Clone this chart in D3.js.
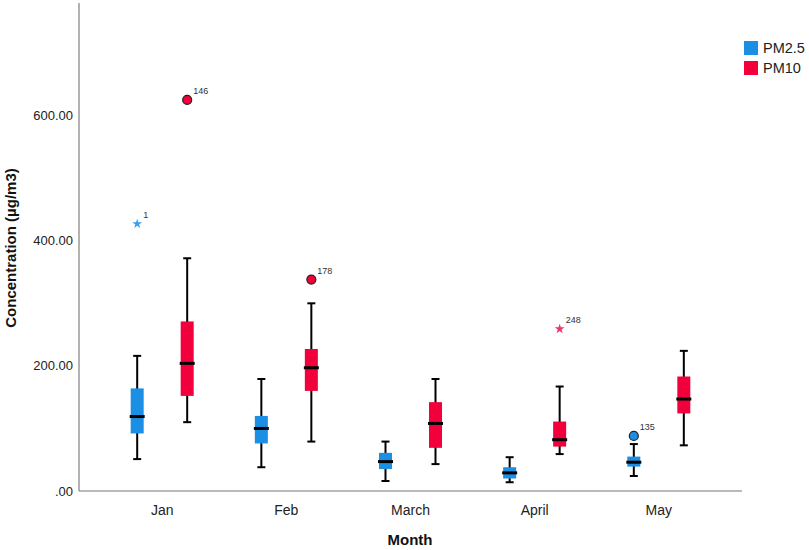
<!DOCTYPE html>
<html>
<head>
<meta charset="utf-8">
<script src="https://cdn.jsdelivr.net/npm/d3@7"></script>
<style>
  body { margin: 0; background: #fff; }
  text { font-family: Arial, "Liberation Sans", sans-serif; }
</style>
</head>
<body>
<div id="chart"></div>
<script>
const months = ["Jan", "Feb", "March", "April", "May"];
const seriesNames = ["PM2.5", "PM10"];
// [low whisker, Q1, median, Q3, high whisker]
const pm25Stats = [
  [51, 92, 119, 164, 216],
  [38, 76, 100, 120, 179],
  [16, 35, 47, 61, 79],
  [14, 20, 29, 38, 54],
  [24, 39, 46, 55, 75]
];
const pm10Stats = [
  [110, 152, 204, 271, 372],
  [79, 160, 197, 227, 300],
  [43, 69, 108, 142, 179],
  [59, 71, 82, 111, 167],
  [73, 124, 147, 183, 224]
];
// outliers: month, series, value, case label, kind
const outlierMonth = ["Jan", "Jan", "Feb", "April", "May"];
const outlierSeries = ["PM2.5", "PM10", "PM10", "PM10", "PM2.5"];
const outlierValue = [427, 625, 338, 259, 88];
const outlierLabel = ["1", "146", "178", "248", "135"];
const outlierKind = ["extreme", "outlier", "outlier", "extreme", "outlier"];
const yTicks = [0, 200, 400, 600];

(function boxplot() {
  const width = 809, height = 550;
  const colors = { "PM2.5": "#1a8fe3", "PM10": "#f2003c" };
  const starColors = { "PM2.5": "#3a9ff0", "PM10": "#f0336a" };

  const svg = d3.select("#chart")
    .append("svg")
    .attr("width", width)
    .attr("height", height);

  const x = d3.scalePoint()
    .domain(months)
    .range([79, 742])
    .padding(0.67);

  const offset = d3.scalePoint()
    .domain(seriesNames)
    .range([-25, 25]);

  const y = d3.scaleLinear()
    .domain([0, 780])
    .range([491, 3]);

  // axes
  svg.append("line")
    .attr("x1", 79).attr("x2", 79)
    .attr("y1", y(780)).attr("y2", y(0))
    .attr("stroke", "#999").attr("stroke-width", 1.5);
  svg.append("line")
    .attr("x1", 79).attr("x2", 742)
    .attr("y1", y(0)).attr("y2", y(0))
    .attr("stroke", "#777").attr("stroke-width", 1.2);

  svg.append("g")
    .selectAll("text")
    .data(yTicks)
    .join("text")
    .attr("x", 73)
    .attr("y", d => y(d))
    .attr("dy", "0.35em")
    .attr("text-anchor", "end")
    .attr("font-size", 13)
    .attr("fill", "#222")
    .text(d => d === 0 ? ".00" : d3.format(".2f")(d));

  svg.append("g")
    .selectAll("text")
    .data(months)
    .join("text")
    .attr("x", d => x(d))
    .attr("y", 515)
    .attr("text-anchor", "middle")
    .attr("font-size", 14)
    .attr("fill", "#222")
    .text(d => d);

  svg.append("text")
    .attr("x", 410)
    .attr("y", 545)
    .attr("text-anchor", "middle")
    .attr("font-size", 15)
    .attr("font-weight", "bold")
    .attr("fill", "#111")
    .text("Month");

  svg.append("text")
    .attr("transform", "translate(16,248) rotate(-90)")
    .attr("text-anchor", "middle")
    .attr("font-size", 15)
    .attr("font-weight", "bold")
    .attr("fill", "#111")
    .text("Concentration (µg/m3)");

  const boxes = [];
  months.forEach((m, i) => {
    boxes.push({ month: m, series: "PM2.5", s: pm25Stats[i] });
    boxes.push({ month: m, series: "PM10", s: pm10Stats[i] });
  });

  const boxW = 13, capW = 8, medW = 15;
  const g = svg.append("g")
    .selectAll("g")
    .data(boxes)
    .join("g")
    .attr("transform", d => `translate(${x(d.month) + offset(d.series)},0)`);

  g.append("line")
    .attr("y1", d => y(d.s[0])).attr("y2", d => y(d.s[4]))
    .attr("stroke", "#000").attr("stroke-width", 2);
  g.append("line")
    .attr("x1", -capW / 2).attr("x2", capW / 2)
    .attr("y1", d => y(d.s[0])).attr("y2", d => y(d.s[0]))
    .attr("stroke", "#000").attr("stroke-width", 2);
  g.append("line")
    .attr("x1", -capW / 2).attr("x2", capW / 2)
    .attr("y1", d => y(d.s[4])).attr("y2", d => y(d.s[4]))
    .attr("stroke", "#000").attr("stroke-width", 2);
  g.append("rect")
    .attr("x", -boxW / 2)
    .attr("width", boxW)
    .attr("y", d => y(d.s[3]))
    .attr("height", d => y(d.s[1]) - y(d.s[3]))
    .attr("fill", d => colors[d.series]);
  g.append("line")
    .attr("x1", -medW / 2).attr("x2", medW / 2)
    .attr("y1", d => y(d.s[2])).attr("y2", d => y(d.s[2]))
    .attr("stroke", "#000").attr("stroke-width", 3);

  // outliers
  const outliers = outlierValue.map((v, i) => ({
    month: outlierMonth[i], series: outlierSeries[i], value: v,
    label: outlierLabel[i], kind: outlierKind[i]
  }));
  const og = svg.append("g")
    .selectAll("g")
    .data(outliers)
    .join("g")
    .attr("transform", d => `translate(${x(d.month) + offset(d.series)},${y(d.value)})`);

  og.filter(d => d.kind === "outlier")
    .append("circle")
    .attr("r", 4.5)
    .attr("fill", d => colors[d.series])
    .attr("stroke", "#222")
    .attr("stroke-width", 1.2);

  og.filter(d => d.kind === "extreme")
    .append("path")
    .attr("d", d3.symbol(d3.symbolStar, 30))
    .attr("fill", d => starColors[d.series]);

  og.append("text")
    .attr("x", 6)
    .attr("y", -6)
    .attr("font-size", 9)
    .attr("fill", "#333")
    .text(d => d.label);

  // legend
  const lg = svg.append("g")
    .selectAll("g")
    .data(seriesNames)
    .join("g")
    .attr("transform", (d, i) => `translate(744,${41 + i * 20})`);
  lg.append("rect")
    .attr("width", 14).attr("height", 14)
    .attr("fill", d => colors[d]);
  lg.append("text")
    .attr("x", 19)
    .attr("y", 7)
    .attr("dy", "0.35em")
    .attr("font-size", 14.5)
    .attr("fill", "#222")
    .text(d => d);
})();
</script>
</body>
</html>
